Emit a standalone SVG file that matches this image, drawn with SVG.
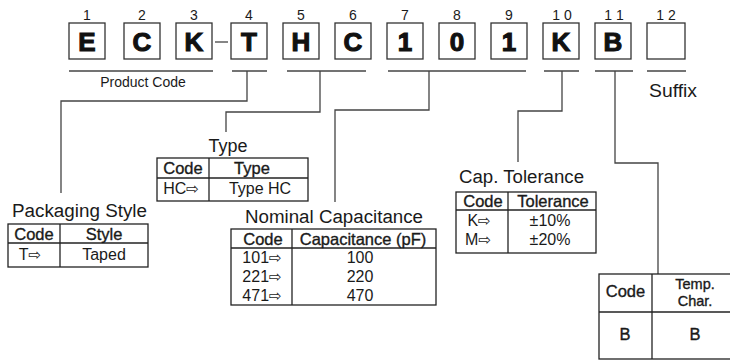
<svg xmlns="http://www.w3.org/2000/svg" width="730" height="360" viewBox="0 0 730 360">
<style>
text{font-family:"Liberation Sans",Arial,sans-serif;fill:#1a1a1a}
.num{font-size:14px;text-anchor:middle}
.big{font-size:26px;font-weight:bold;text-anchor:middle;stroke:#111;stroke-width:1.1;fill:#111}
.box{fill:#fff;stroke:#333;stroke-width:1.3}
.ul{stroke:#444;stroke-width:1.3}
.conn{fill:none;stroke:#444;stroke-width:1.3}
.lbl{font-size:14px;text-anchor:middle}
.title{font-size:18px;text-anchor:middle}
.tbl{fill:none;stroke:#222;stroke-width:1.3}
.th{font-size:16.5px;text-anchor:middle;stroke:#1a1a1a;stroke-width:0.35}
.td{font-size:16px;text-anchor:middle}
.ar{font-family:"DejaVu Sans",sans-serif;font-size:15px}
</style>

<g id="code-boxes">
  <g id="pos1"><text class="num" x="87" y="20">1</text><rect class="box" x="69" y="23" width="36" height="36"/><text class="big" x="87" y="51">E</text></g>
  <g id="pos2"><text class="num" x="142" y="20">2</text><rect class="box" x="124" y="23" width="36" height="36"/><text class="big" x="142" y="51">C</text></g>
  <g id="pos3"><text class="num" x="194" y="20">3</text><rect class="box" x="176" y="23" width="36" height="36"/><text class="big" x="194" y="51">K</text></g>
  <line class="ul" x1="215" y1="42" x2="228" y2="42"/>
  <g id="pos4"><text class="num" x="249" y="20">4</text><rect class="box" x="231" y="23" width="36" height="36"/><text class="big" x="249" y="51">T</text></g>
  <g id="pos5"><text class="num" x="301" y="20">5</text><rect class="box" x="283" y="23" width="36" height="36"/><text class="big" x="301" y="51">H</text></g>
  <g id="pos6"><text class="num" x="353" y="20">6</text><rect class="box" x="335" y="23" width="36" height="36"/><text class="big" x="353" y="51">C</text></g>
  <g id="pos7"><text class="num" x="405" y="20">7</text><rect class="box" x="387" y="23" width="36" height="36"/><text class="big" x="405" y="51">1</text></g>
  <g id="pos8"><text class="num" x="457" y="20">8</text><rect class="box" x="439" y="23" width="36" height="36"/><text class="big" x="457" y="51">0</text></g>
  <g id="pos9"><text class="num" x="509" y="20">9</text><rect class="box" x="491" y="23" width="36" height="36"/><text class="big" x="509" y="51">1</text></g>
  <g id="pos10"><text class="num" x="562" y="20">1 0</text><rect class="box" x="543" y="23" width="36" height="36"/><text class="big" x="561" y="51">K</text></g>
  <g id="pos11"><text class="num" x="614" y="20">1 1</text><rect class="box" x="595" y="23" width="36" height="36"/><text class="big" x="613" y="51">B</text></g>
  <g id="pos12"><text class="num" x="666" y="20">1 2</text><rect class="box" x="647" y="23" width="38" height="36"/></g>
</g>

<g id="underlines">
  <line class="ul" x1="69" y1="71" x2="213" y2="71"/>
  <line class="ul" x1="232" y1="71" x2="267" y2="71"/>
  <line class="ul" x1="287" y1="71" x2="366" y2="71"/>
  <line class="ul" x1="388" y1="71" x2="526" y2="71"/>
  <line class="ul" x1="544" y1="71" x2="579" y2="71"/>
  <line class="ul" x1="595" y1="71" x2="633" y2="71"/>
  <line class="ul" x1="647" y1="71" x2="686" y2="71"/>
  <text class="lbl" x="143" y="87">Product Code</text>
  <text x="649" y="97" font-size="18" textLength="48" lengthAdjust="spacingAndGlyphs">Suffix</text>
</g>

<g id="connectors">
  <path class="conn" d="M247,71 V101 H61 V193"/>
  <path class="conn" d="M320,71 V112 H226 V132"/>
  <path class="conn" d="M429,71 V110 H335 V202"/>
  <path class="conn" d="M562,71 V111 H518 V162"/>
  <path class="conn" d="M615,71 V163 H658 V274"/>
</g>

<g id="packaging-style">
  <text class="title" x="79.5" y="217" textLength="135" lengthAdjust="spacingAndGlyphs">Packaging Style</text>
  <rect class="tbl" x="8" y="224" width="140" height="43"/>
  <line class="tbl" x1="8" y1="243" x2="148" y2="243"/>
  <line class="tbl" x1="60" y1="224" x2="60" y2="267"/>
  <text class="th" x="34" y="240">Code</text>
  <text class="th" x="104" y="240">Style</text>
  <text class="td" x="30" y="260">T<tspan class="ar">⇨</tspan></text>
  <text class="td" x="104" y="260">Taped</text>
</g>

<g id="type">
  <text class="title" x="228" y="152">Type</text>
  <rect class="tbl" x="157" y="158" width="151" height="43"/>
  <line class="tbl" x1="157" y1="178" x2="308" y2="178"/>
  <line class="tbl" x1="209" y1="158" x2="209" y2="201"/>
  <text class="th" x="183" y="174">Code</text>
  <text class="th" x="252" y="174">Type</text>
  <text class="td" x="181" y="194">HC<tspan class="ar">⇨</tspan></text>
  <text class="td" x="260" y="194">Type HC</text>
</g>

<g id="nominal-capacitance">
  <text class="title" x="334" y="223" textLength="178" lengthAdjust="spacingAndGlyphs">Nominal Capacitance</text>
  <rect class="tbl" x="231" y="229" width="205" height="76"/>
  <line class="tbl" x1="231" y1="248" x2="436" y2="248"/>
  <line class="tbl" x1="292" y1="229" x2="292" y2="305"/>
  <text class="th" x="263" y="245">Code</text>
  <text class="th" x="363" y="245">Capacitance (pF)</text>
  <text class="td" x="262" y="263">101<tspan class="ar">⇨</tspan></text>
  <text class="td" x="360" y="263">100</text>
  <text class="td" x="262" y="282">221<tspan class="ar">⇨</tspan></text>
  <text class="td" x="360" y="282">220</text>
  <text class="td" x="262" y="301">471<tspan class="ar">⇨</tspan></text>
  <text class="td" x="360" y="301">470</text>
</g>

<g id="cap-tolerance">
  <text class="title" x="521.5" y="183" textLength="125" lengthAdjust="spacingAndGlyphs">Cap. Tolerance</text>
  <rect class="tbl" x="456" y="192" width="140" height="61"/>
  <line class="tbl" x1="456" y1="210" x2="596" y2="210"/>
  <line class="tbl" x1="508" y1="192" x2="508" y2="253"/>
  <text class="th" x="483" y="207">Code</text>
  <text class="th" x="553" y="207">Tolerance</text>
  <text class="td" x="479" y="226">K<tspan class="ar">⇨</tspan></text>
  <text class="td" x="550" y="226">±10%</text>
  <text class="td" x="478" y="245">M<tspan class="ar">⇨</tspan></text>
  <text class="td" x="550" y="245">±20%</text>
</g>

<g id="temp-char">
  <rect class="tbl" x="599" y="274" width="140" height="85"/>
  <line class="tbl" x1="599" y1="312" x2="739" y2="312"/>
  <line class="tbl" x1="652" y1="274" x2="652" y2="359"/>
  <text class="th" x="625.5" y="297" font-size="16">Code</text>
  <text class="th" x="695" y="289" style="font-size:14.5px">Temp.</text>
  <text class="th" x="695" y="306" style="font-size:14.5px">Char.</text>
  <text class="th" x="625" y="340">B</text>
  <text class="th" x="695" y="340">B</text>
</g>
</svg>
